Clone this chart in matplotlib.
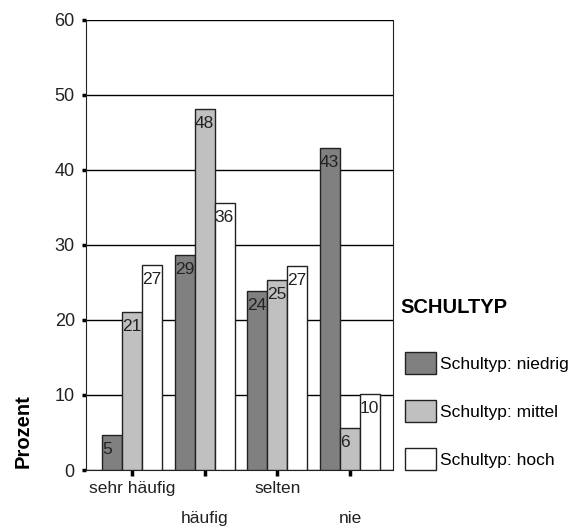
import numpy as np
import matplotlib.pyplot as plt

plt.rcParams['font.family'] = ['Liberation Sans', 'DejaVu Sans']

kategorien = ['sehr häufig', 'häufig', 'selten', 'nie']
niedrig = [4.7, 28.6, 23.9, 42.9]
mittel = [21.1, 48.1, 25.3, 5.6]
hoch = [27.3, 35.6, 27.2, 10.1]
serien = ['Schultyp: niedrig', 'Schultyp: mittel', 'Schultyp: hoch']
farben = ['#808080', '#c0c0c0', '#ffffff']

fig = plt.figure(figsize=(5.79, 5.28), dpi=100)
ax = fig.add_axes([0.1485, 0.1098, 0.530, 0.853])

x = np.arange(len(kategorien))
breite = 0.275
for i, (werte, name, farbe) in enumerate(zip([niedrig, mittel, hoch], serien, farben)):
    pos = x + (i - 1) * breite
    bars = ax.bar(pos, werte, breite, color=farbe, edgecolor='#222222',
                  linewidth=1, label=name, zorder=3)
    # Wert oben links in den Balken schreiben
    for b, v in zip(bars, werte):
        ax.annotate(f'{v:.0f}', (b.get_x(), v), xytext=(0, -5),
                    textcoords='offset points', ha='left', va='top',
                    fontsize=12.5, color='#222222', zorder=4)

ax.set_ylim(0, 60)
ax.set_xlim(-0.633, 3.59)
ax.set_yticks(range(0, 61, 10))
ax.yaxis.grid(True, color='black', linewidth=1)
ax.set_axisbelow(True)
for s in ['left', 'right', 'bottom']:
    ax.spines[s].set_color('#222222')
ax.spines['top'].set_visible(False)
ax.tick_params(axis='y', length=3, width=2.5, labelsize=13, pad=5, labelcolor='#222222')
ax.tick_params(axis='x', length=4, width=2.5, labelsize=12.5, pad=4, labelcolor='#222222')

ax.set_xticks(x)
ax.set_xticklabels(['sehr häufig', '\nhäufig', 'selten', '\nnie'], linespacing=2.2)

ax.set_ylabel('Prozent', fontsize=14.5, fontweight='bold')
ax.yaxis.set_label_coords(-0.175, 0.087)

fig.text(0.6908, 0.407, 'SCHULTYP', fontsize=14.5, fontweight='bold',
         va='baseline', ha='left')
leg = fig.legend(loc='upper left', bbox_to_anchor=(0.6995, 0.3333), frameon=False,
                 fontsize=12.5, handlelength=1.8, handleheight=1.57,
                 labelspacing=1.5, handletextpad=0.22,
                 borderpad=0, borderaxespad=0)

fig.savefig('out.png', dpi=100)
